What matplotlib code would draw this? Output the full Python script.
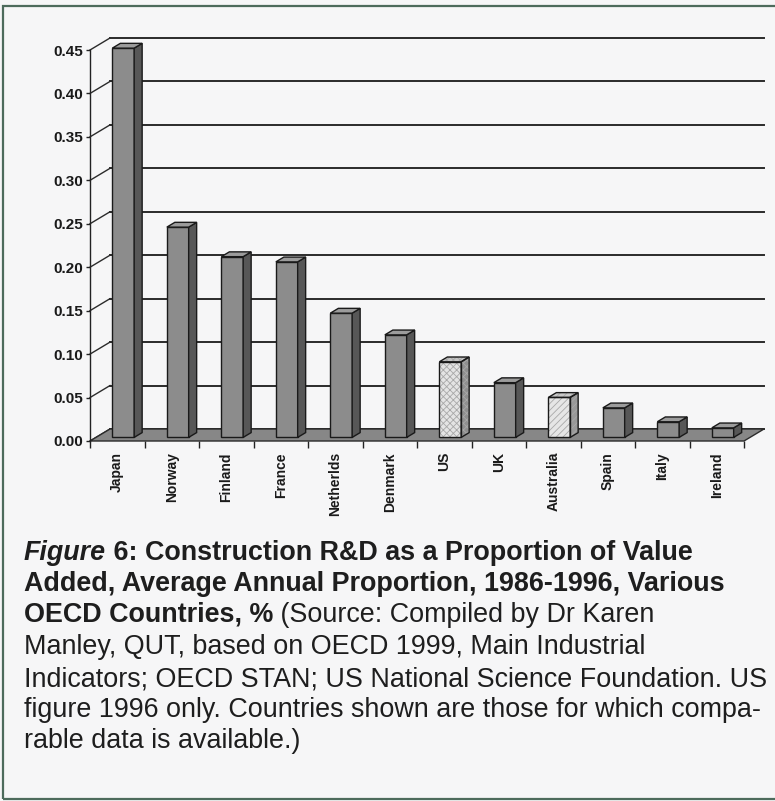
import matplotlib.pyplot as plt
import numpy as np
from matplotlib.patches import Polygon, Rectangle
from matplotlib.transforms import IdentityTransform

plt.rcParams['font.family'] = ['Liberation Sans', 'DejaVu Sans']

countries = ["Japan", "Norway", "Finland", "France", "Netherlds", "Denmark",
             "US", "UK", "Australia", "Spain", "Italy", "Ireland"]
rd_share = [0.448, 0.242, 0.208, 0.202, 0.143, 0.118,
            0.087, 0.063, 0.046, 0.034, 0.018, 0.011]
# US and Australia figures are drawn with patterned bars
bar_style = ["plain"] * 6 + ["dots", "plain", "diag", "plain", "plain", "plain"]
y_ticks = [0.00, 0.05, 0.10, 0.15, 0.20, 0.25, 0.30, 0.35, 0.40, 0.45]

caption = [
    [("Figure", "bold", "italic"), (" 6: Construction R&D as a Proportion of Value", "bold", "normal")],
    [("Added, Average Annual Proportion, 1986-1996, Various", "bold", "normal")],
    [("OECD Countries, %", "bold", "normal"), (" (Source: Compiled by Dr Karen", "normal", "normal")],
    [("Manley, QUT, based on OECD 1999, Main Industrial", "normal", "normal")],
    [("Indicators; OECD STAN; US National Science Foundation. US", "normal", "normal")],
    [("figure 1996 only. Countries shown are those for which compa-", "normal", "normal")],
    [("rable data is available.)", "normal", "normal")],
]

W, H = 775, 801
fig = plt.figure(figsize=(W / 100, H / 100), dpi=100, facecolor='#f6f6f7')
ax = fig.add_axes([90 / W, 360 / H, 654 / W, 391 / H])
ax.set_facecolor('none')
ax.set_xlim(0, len(countries))
ax.set_ylim(0, 0.45)

# front axis: left spine with bold tick labels, floor ticks at category borders
for side in ('top', 'right', 'bottom'):
    ax.spines[side].set_visible(False)
ax.spines['left'].set_color('#222222')
ax.spines['left'].set_linewidth(1.0)
ax.set_yticks(y_ticks)
ax.set_yticklabels([f"{t:.2f}" for t in y_ticks], fontsize=11, fontweight='bold', color='#1a1a1a')
ax.tick_params(axis='y', length=3, width=1, color='#222222', pad=2)
ax.set_xticks(np.arange(len(countries) + 1))
ax.set_xticklabels([])
ax.tick_params(axis='x', which='major', length=5, width=1, color='#222222', direction='out')
ax.set_xticks(np.arange(len(countries)) + 0.5, minor=True)
ax.set_xticklabels(countries, minor=True, rotation=90, fontsize=10, fontweight='bold',
                   color='#1a1a1a', va='top')
ax.tick_params(axis='x', which='minor', length=0, pad=8)

# pixel offset of the back wall relative to the front plane
DEPTH = np.array([20.0, 12.0])


def proj(x, y, d):
    return ax.transData.transform((x, y)) + DEPTH * d


def face(points, **kw):
    poly = Polygon([proj(*p) for p in points], closed=True,
                   transform=IdentityTransform(), clip_on=False, **kw)
    ax.add_patch(poly)
    return poly


n = len(countries)

# back wall gridlines and the diagonal links on the side wall
for t in y_ticks:
    a, b = proj(0, t, 1), proj(n, t, 1)
    ax.plot([a[0], b[0]], [a[1], b[1]], color='#2b2b2b', lw=1.4,
            transform=IdentityTransform(), clip_on=False, zorder=1)
    c = proj(0, t, 0)
    ax.plot([c[0], a[0]], [c[1], a[1]], color='#2b2b2b', lw=1.0,
            transform=IdentityTransform(), clip_on=False, zorder=1)

# floor
face([(0, 0, 0), (n, 0, 0), (n, 0, 1), (0, 0, 1)],
     facecolor='#878787', edgecolor='#2b2b2b', lw=1.0, zorder=2)

plain = {"front": '#8c8c8c', "side": '#575757', "top": '#9c9c9c'}
patterned = {
    "dots": {"front": '#e4e4e4', "side": '#8f8f8f', "top": '#c4c4c4', "hatch": 'xxxxx', "hc": '#a8a8a8'},
    "diag": {"front": '#e6e6e6', "side": '#999999', "top": '#c8c8c8', "hatch": '/////', "hc": '#a8a8a8'},
}
plt.rcParams['hatch.linewidth'] = 0.6

d1, d2 = 0.3, 0.7
for i, (v, style) in enumerate(zip(rd_share, bar_style)):
    x0, x1 = i + 0.3, i + 0.7
    faces = {
        "front": [(x0, 0, d1), (x1, 0, d1), (x1, v, d1), (x0, v, d1)],
        "side": [(x1, 0, d1), (x1, 0, d2), (x1, v, d2), (x1, v, d1)],
        "top": [(x0, v, d1), (x1, v, d1), (x1, v, d2), (x0, v, d2)],
    }
    for name, pts in faces.items():
        if style == "plain":
            face(pts, facecolor=plain[name], edgecolor='#1a1a1a', lw=1.0, zorder=3)
        else:
            spec = patterned[style]
            face(pts, facecolor=spec[name], edgecolor='none', zorder=3)
            face(pts, facecolor='none', edgecolor=spec["hc"], hatch=spec["hatch"], lw=0, zorder=3.1)
            face(pts, facecolor='none', edgecolor='#1a1a1a', lw=1.0, zorder=3.2)

# page frame, open on the right
fig.add_artist(Rectangle((3 / W, 2 / H), 1.05, 793 / H, transform=fig.transFigure,
                         fill=False, edgecolor='#4d6b5c', lw=1.6))

# caption, one line at a time, mixing weights within a line
baselines = [560, 591, 622, 654, 686, 717, 748]
for segs, yb in zip(caption, baselines):
    prev = None
    for text, weight, style in segs:
        kw = dict(fontsize=19.4, fontweight=weight, fontstyle=style, color='#1e1e1e')
        if prev is None:
            prev = fig.text(24 / W, 1 - yb / H, text, ha='left', va='baseline', **kw)
        else:
            prev = ax.annotate(text, xy=(1, 0), xycoords=prev, ha='left', va='bottom',
                               annotation_clip=False, **kw)

fig.savefig('out.png', dpi=100, facecolor=fig.get_facecolor())
